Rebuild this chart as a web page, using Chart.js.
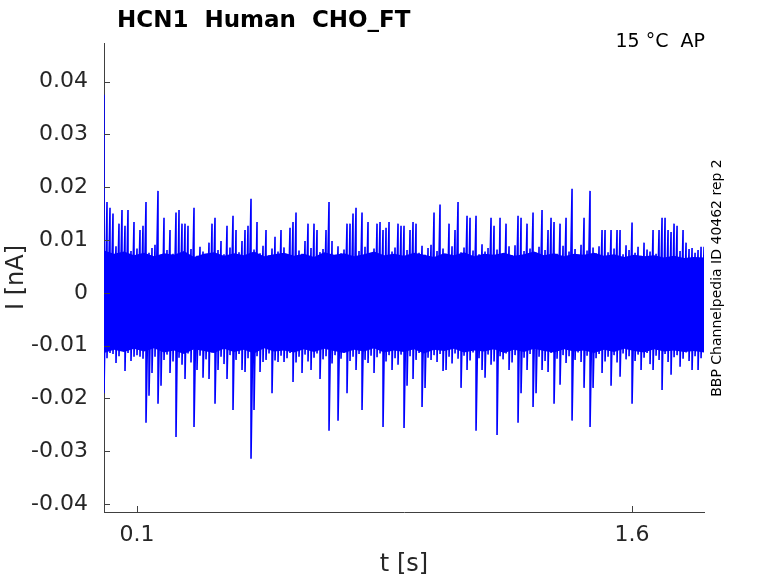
<!DOCTYPE html>
<html>
<head>
<meta charset="utf-8">
<title>HCN1 Human CHO_FT</title>
<script src="https://cdn.jsdelivr.net/npm/chart.js@4.4.1/dist/chart.umd.min.js"></script>
<style>
    html, body { margin: 0; padding: 0; background: #ffffff; }
    #wrap { width: 778px; height: 583px; position: relative; }
</style>
</head>
<body>
<div id="wrap"><canvas id="traceChart" width="778" height="583"></canvas></div>
<script>
// Sample spacing of the trace (s); each column holds the max / min current seen in it
const dt = 0.0090909;

// Column maxima (nA)
const iHigh = [
    0.0375, 0.0172, 0.0161, 0.0150, 0.0088, 0.0131, 0.0157, 0.0127, 0.0157, 0.0079,
    0.0134, 0.0084, 0.0119, 0.0127, 0.0172, 0.0076, 0.0085, 0.0091, 0.0193, 0.0072,
    0.0142, 0.0081, 0.0119, 0.0074, 0.0152, 0.0157, 0.0131, 0.0131, 0.0127, 0.0083,
    0.0161, 0.0070, 0.0087, 0.0078, 0.0068, 0.0095, 0.0131, 0.0142, 0.0081, 0.0098,
    0.0073, 0.0127, 0.0086, 0.0146, 0.0119, 0.0077, 0.0098, 0.0119, 0.0127, 0.0178,
    0.0082, 0.0134, 0.0075, 0.0089, 0.0119, 0.0071, 0.0084, 0.0106, 0.0078, 0.0119,
    0.0086, 0.0072, 0.0123, 0.0134, 0.0152, 0.0080, 0.0074, 0.0098, 0.0131, 0.0085,
    0.0131, 0.0119, 0.0077, 0.0083, 0.0119, 0.0172, 0.0098, 0.0071, 0.0088, 0.0075,
    0.0082, 0.0131, 0.0131, 0.0150, 0.0161, 0.0079, 0.0152, 0.0087, 0.0134, 0.0073,
    0.0084, 0.0131, 0.0134, 0.0119, 0.0123, 0.0134, 0.0078, 0.0086, 0.0131, 0.0127,
    0.0127, 0.0081, 0.0119, 0.0134, 0.0131, 0.0076, 0.0089, 0.0072, 0.0085, 0.0091,
    0.0152, 0.0079, 0.0167, 0.0084, 0.0074, 0.0131, 0.0088, 0.0119, 0.0172, 0.0077,
    0.0086, 0.0146, 0.0142, 0.0080, 0.0146, 0.0073, 0.0092, 0.0078, 0.0085, 0.0142,
    0.0127, 0.0082, 0.0142, 0.0075, 0.0131, 0.0088, 0.0071, 0.0090, 0.0146, 0.0142,
    0.0079, 0.0131, 0.0084, 0.0152, 0.0076, 0.0087, 0.0157, 0.0081, 0.0119, 0.0142,
    0.0134, 0.0074, 0.0131, 0.0089, 0.0142, 0.0078, 0.0197, 0.0083, 0.0072, 0.0091,
    0.0142, 0.0080, 0.0193, 0.0086, 0.0075, 0.0088, 0.0119, 0.0119, 0.0077, 0.0119,
    0.0084, 0.0119, 0.0119, 0.0073, 0.0090, 0.0081, 0.0133, 0.0076, 0.0087, 0.0070,
    0.0095, 0.0082, 0.0078, 0.0119, 0.0074, 0.0119, 0.0142, 0.0142, 0.0119, 0.0115,
    0.0131, 0.0127, 0.0079, 0.0119, 0.0095, 0.0083, 0.0085, 0.0076, 0.0081, 0.0087,
    0.0087
];

// Column minima (nA)
const iLow = [
    -0.0190, -0.0124, -0.0114, -0.0116, -0.0133, -0.0120, -0.0110, -0.0148, -0.0114, -0.0129,
    -0.0121, -0.0118, -0.0121, -0.0125, -0.0246, -0.0195, -0.0152, -0.0121, -0.0210, -0.0176,
    -0.0127, -0.0117, -0.0152, -0.0130, -0.0273, -0.0123, -0.0136, -0.0163, -0.0115, -0.0132,
    -0.0254, -0.0146, -0.0119, -0.0161, -0.0126, -0.0163, -0.0113, -0.0210, -0.0146, -0.0121,
    -0.0135, -0.0163, -0.0118, -0.0222, -0.0127, -0.0116, -0.0146, -0.0150, -0.0124, -0.0314,
    -0.0222, -0.0120, -0.0150, -0.0131, -0.0127, -0.0115, -0.0190, -0.0128, -0.0131, -0.0119,
    -0.0131, -0.0124, -0.0114, -0.0169, -0.0132, -0.0121, -0.0152, -0.0117, -0.0130, -0.0146,
    -0.0123, -0.0115, -0.0163, -0.0126, -0.0120, -0.0261, -0.0134, -0.0118, -0.0242, -0.0125,
    -0.0113, -0.0190, -0.0129, -0.0121, -0.0146, -0.0116, -0.0222, -0.0127, -0.0133, -0.0119,
    -0.0152, -0.0122, -0.0115, -0.0254, -0.0130, -0.0118, -0.0146, -0.0124, -0.0136, -0.0117,
    -0.0256, -0.0176, -0.0120, -0.0163, -0.0127, -0.0114, -0.0216, -0.0180, -0.0123, -0.0127,
    -0.0118, -0.0131, -0.0116, -0.0148, -0.0146, -0.0121, -0.0134, -0.0115, -0.0125, -0.0180,
    -0.0119, -0.0146, -0.0128, -0.0113, -0.0261, -0.0124, -0.0146, -0.0161, -0.0117, -0.0136,
    -0.0130, -0.0269, -0.0120, -0.0126, -0.0115, -0.0146, -0.0132, -0.0118, -0.0246, -0.0190,
    -0.0123, -0.0146, -0.0116, -0.0216, -0.0190, -0.0121, -0.0146, -0.0129, -0.0150, -0.0114,
    -0.0210, -0.0125, -0.0174, -0.0118, -0.0133, -0.0120, -0.0242, -0.0127, -0.0113, -0.0131,
    -0.0180, -0.0119, -0.0254, -0.0180, -0.0124, -0.0116, -0.0152, -0.0130, -0.0121, -0.0176,
    -0.0118, -0.0132, -0.0159, -0.0115, -0.0126, -0.0120, -0.0210, -0.0129, -0.0117, -0.0146,
    -0.0123, -0.0114, -0.0135, -0.0146, -0.0119, -0.0127, -0.0184, -0.0116, -0.0131, -0.0155,
    -0.0122, -0.0118, -0.0140, -0.0125, -0.0113, -0.0129, -0.0146, -0.0120, -0.0146, -0.0124,
    -0.0122
];

// Edges of the near-solid noise band (nA), one value every 0.0303 s
const coreStep = 0.030303;
const coreHigh = [
    0.0080, 0.0074, 0.0078, 0.0071, 0.0076, 0.0069, 0.0075, 0.0072, 0.0079, 0.0068,
    0.0074, 0.0077, 0.0070, 0.0075, 0.0071, 0.0078, 0.0069, 0.0073, 0.0076, 0.0070,
    0.0074, 0.0068, 0.0077, 0.0072, 0.0075, 0.0069, 0.0073, 0.0078, 0.0071, 0.0074,
    0.0070, 0.0076, 0.0072, 0.0068, 0.0075, 0.0071, 0.0077, 0.0069, 0.0074, 0.0072,
    0.0076, 0.0070, 0.0073, 0.0078, 0.0071, 0.0075, 0.0069, 0.0074, 0.0072, 0.0076,
    0.0070, 0.0073, 0.0068, 0.0072, 0.0069, 0.0071, 0.0067, 0.0070, 0.0066, 0.0068,
    0.0067
];
const coreLow = [
    -0.0114, -0.0108, -0.0112, -0.0106, -0.0111, -0.0105, -0.0113, -0.0109, -0.0116, -0.0107,
    -0.0110, -0.0114, -0.0106, -0.0112, -0.0108, -0.0115, -0.0105, -0.0111, -0.0109, -0.0113,
    -0.0107, -0.0112, -0.0106, -0.0110, -0.0114, -0.0108, -0.0111, -0.0105, -0.0113, -0.0109,
    -0.0112, -0.0107, -0.0115, -0.0108, -0.0110, -0.0106, -0.0113, -0.0109, -0.0111, -0.0107,
    -0.0114, -0.0108, -0.0112, -0.0106, -0.0110, -0.0113, -0.0107, -0.0111, -0.0109, -0.0114,
    -0.0108, -0.0112, -0.0106, -0.0110, -0.0113, -0.0107, -0.0111, -0.0109, -0.0112, -0.0110,
    -0.0113
];

const xTicks = [0.1, 1.6];
const yTicks = [-0.04, -0.03, -0.02, -0.01, 0, 0.01, 0.02, 0.03, 0.04];

const titleText = 'HCN1  Human  CHO_FT';
const condText = '15 \u00B0C  AP';
const sideText = 'BBP Channelpedia ID 40462 rep 2';

const TRACE_COLOR = '#0000ff';
const AXIS_COLOR = '#404040';
const TEXT_COLOR = '#262626';
const FONT = '"DejaVu Sans", "Liberation Sans", sans-serif';

// trace goes max -> min in each column, then on to the next column
const tracePoints = [];
iHigh.forEach((hi, i) => {
    tracePoints.push({ x: i * dt, y: hi });
    tracePoints.push({ x: i * dt, y: iLow[i] });
});
const coreTop = coreHigh.map((v, k) => ({ x: k * coreStep, y: v }));
const coreBottom = coreLow.map((v, k) => ({ x: k * coreStep, y: v }));

// ticks point inward like the original figure
const inwardTicks = {
    id: 'inwardTicks',
    afterDraw(chart) {
        const ctx = chart.ctx;
        const area = chart.chartArea;
        const xs = chart.scales.x;
        const ys = chart.scales.y;
        ctx.save();
        ctx.strokeStyle = AXIS_COLOR;
        ctx.lineWidth = 1;
        ctx.beginPath();
        yTicks.forEach(v => {
            const py = Math.round(ys.getPixelForValue(v)) + 0.5;
            ctx.moveTo(area.left, py);
            ctx.lineTo(area.left + 6, py);
        });
        xTicks.forEach(v => {
            const px = Math.round(xs.getPixelForValue(v)) + 0.5;
            ctx.moveTo(px, area.bottom);
            ctx.lineTo(px, area.bottom - 6);
        });
        ctx.stroke();
        ctx.restore();
    }
};

const labelsPlugin = {
    id: 'figureLabels',
    afterDraw(chart) {
        const ctx = chart.ctx;
        ctx.save();
        ctx.fillStyle = '#000000';
        ctx.font = 'bold 23px ' + FONT;
        ctx.textAlign = 'left';
        ctx.textBaseline = 'alphabetic';
        ctx.fillText(titleText, 117, 27);

        ctx.font = '19px ' + FONT;
        ctx.textAlign = 'right';
        ctx.fillText(condText, 705, 47);

        ctx.translate(717, 278);
        ctx.rotate(-Math.PI / 2);
        ctx.font = '14px ' + FONT;
        ctx.textAlign = 'center';
        ctx.textBaseline = 'middle';
        ctx.fillText(sideText, 0, 0);
        ctx.restore();
    }
};

const fmt = v => {
    const s = Number(v.toFixed(2));
    return s === 0 ? '0' : String(s);
};

new Chart(document.getElementById('traceChart').getContext('2d'), {
    type: 'line',
    data: {
        datasets: [
            {
                label: 'band top',
                data: coreTop,
                borderWidth: 0,
                borderColor: TRACE_COLOR,
                backgroundColor: TRACE_COLOR,
                pointRadius: 0,
                fill: '+1',
                order: 2
            },
            {
                label: 'band bottom',
                data: coreBottom,
                borderWidth: 0,
                borderColor: TRACE_COLOR,
                pointRadius: 0,
                fill: false,
                order: 2
            },
            {
                label: 'I',
                data: tracePoints,
                borderColor: TRACE_COLOR,
                borderWidth: 1.6,
                pointRadius: 0,
                tension: 0,
                fill: false,
                order: 1
            }
        ]
    },
    options: {
        responsive: false,
        animation: false,
        devicePixelRatio: 1,
        layout: { padding: { top: 43, right: 74, left: 0, bottom: 0 } },
        plugins: {
            legend: { display: false },
            tooltip: { enabled: false }
        },
        scales: {
            x: {
                type: 'linear',
                min: 0,
                max: 1.818,
                afterBuildTicks: scale => { scale.ticks = xTicks.map(v => ({ value: v })); },
                afterFit: scale => { scale.height = 71; },
                grid: { display: false, drawTicks: false },
                border: { display: true, color: AXIS_COLOR, width: 1 },
                ticks: {
                    padding: 10,
                    color: TEXT_COLOR,
                    font: { family: FONT, size: 22 },
                    maxRotation: 0,
                    callback: v => fmt(v)
                },
                title: {
                    display: true,
                    text: 't [s]',
                    color: TEXT_COLOR,
                    font: { family: FONT, size: 24 },
                    padding: { top: 0, bottom: 4 }
                }
            },
            y: {
                type: 'linear',
                min: -0.0415,
                max: 0.0473,
                afterBuildTicks: scale => { scale.ticks = yTicks.map(v => ({ value: v })); },
                afterFit: scale => { scale.width = 104; },
                grid: { display: false, drawTicks: false },
                border: { display: true, color: AXIS_COLOR, width: 1 },
                ticks: {
                    padding: 16,
                    color: TEXT_COLOR,
                    font: { family: FONT, size: 22 },
                    callback: v => fmt(v)
                },
                title: {
                    display: true,
                    text: 'I [nA]',
                    color: TEXT_COLOR,
                    font: { family: FONT, size: 24 },
                    padding: { top: 2, bottom: 0 }
                }
            }
        }
    },
    plugins: [inwardTicks, labelsPlugin]
});
</script>
</body>
</html>
